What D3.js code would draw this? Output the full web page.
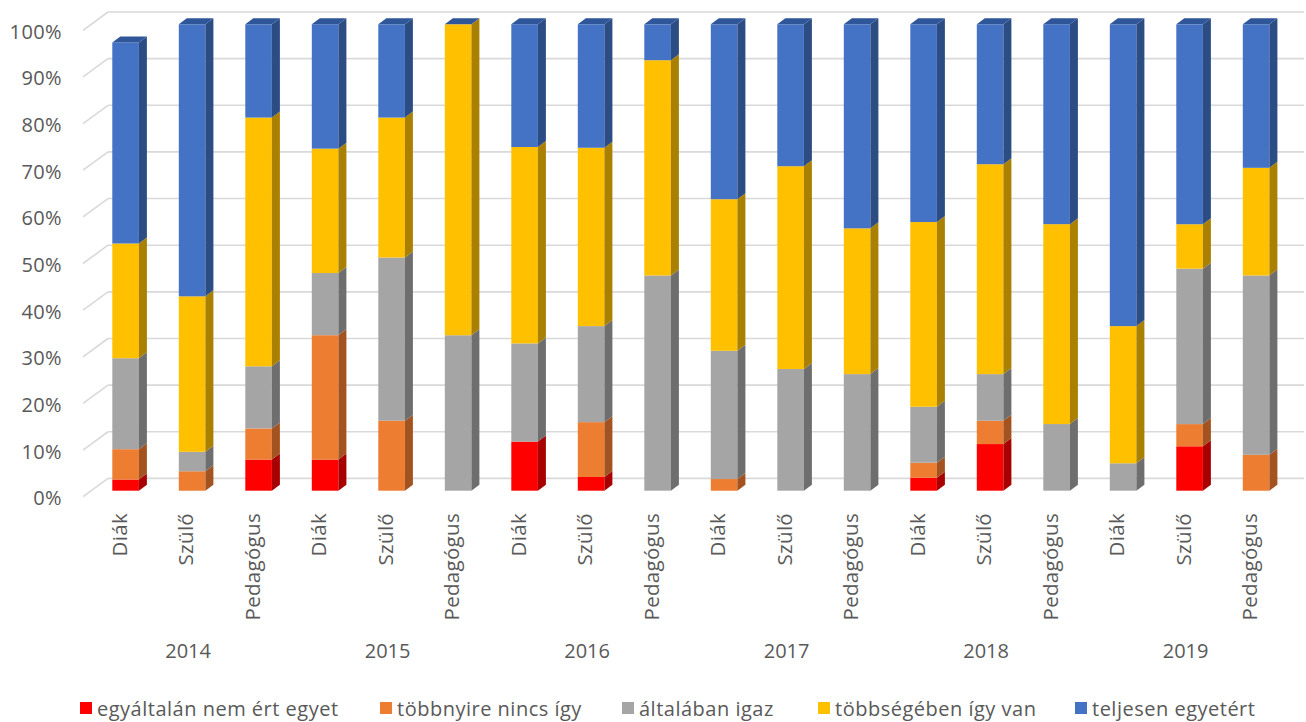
<!DOCTYPE html>
<html>
<head>
<meta charset="utf-8">
<script src="https://cdn.jsdelivr.net/npm/d3@7/dist/d3.min.js"></script>
<style>
  html, body { margin: 0; padding: 0; background: #ffffff; }
  svg { display: block; }
  text { font-family: "Open Sans", "Noto Sans", sans-serif; fill: #595959; }
</style>
</head>
<body>
<svg id="chart" width="1306" height="722"></svg>
<script>
// ---- data ----
const categories = ["Diák","Szülő","Pedagógus","Diák","Szülő","Pedagógus","Diák","Szülő","Pedagógus",
                    "Diák","Szülő","Pedagógus","Diák","Szülő","Pedagógus","Diák","Szülő","Pedagógus"];
const years = ["2014","2015","2016","2017","2018","2019"];
const seriesNames = ["egyáltalán nem ért egyet","többnyire nincs így","általában igaz","többségében így van","teljesen egyetért"];
const seriesColors = ["#FF0000","#ED7D31","#A5A5A5","#FFC000","#4472C4"];
const sideColors   = ["#A80000","#A2531F","#6E6E6E","#AA8000","#2C4C84"];
const topColors    = ["#C00000","#B8612A","#848484","#C49300","#30569A"];

const redVals    = [2.4, 0, 6.67, 6.67, 0, 0, 10.53, 2.94, 0, 0, 0, 0, 2.8, 10, 0, 0, 9.52, 0];
const orangeVals = [6.5, 4.17, 6.67, 26.67, 15, 0, 0, 11.76, 0, 2.5, 0, 0, 3.2, 5, 0, 0, 4.76, 7.69];
const grayVals   = [19.5, 4.17, 13.33, 13.33, 35, 33.33, 21.05, 20.59, 46.15, 27.5, 26.09, 25, 12.0, 10, 14.29, 5.88, 33.33, 38.46];
const yellowVals = [24.6, 33.33, 53.33, 26.67, 30, 66.67, 42.11, 38.24, 46.15, 32.5, 43.48, 31.25, 39.6, 45, 42.86, 29.41, 9.52, 23.08];
const blueVals   = [43.1, 58.33, 20, 26.67, 20, 0, 26.32, 26.47, 7.69, 37.5, 30.43, 43.75, 42.4, 30, 42.86, 64.71, 42.86, 30.77];
const yTicks = [0,10,20,30,40,50,60,70,80,90,100];

// ---- build table ----
const seriesVals = [redVals, orangeVals, grayVals, yellowVals, blueVals];
const table = categories.map((c, i) => {
  const row = { idx: i, cat: c };
  seriesNames.forEach((s, k) => row[s] = seriesVals[k][i]);
  return row;
});
const stacked = d3.stack().keys(seriesNames)(table);

// ---- geometry ----
const svg = d3.select("#chart");
const depthX = 8, depthY = -6;          // bar depth
const wallDY = -12.3;                   // back wall offset relative to bar front plane
const sideFrontDY = 6;                  // side wall front edge offset

const x = d3.scaleBand().domain(d3.range(categories.length))
  .range([92.35, 1289.35]).paddingInner(0.6).paddingOuter(0.3);
const xYear = d3.scaleBand().domain(years).range([92.35, 1289.35]);
const y = d3.scaleLinear().domain([0, 100]).range([490.7, 24.3]);

const wallLeft = 108, wallRight = 1304, sideFrontX = 83;

// gridlines on back wall + side wall
const grid = svg.append("g");
yTicks.forEach(t => {
  const yb = y(t) + wallDY;
  grid.append("line").attr("x1", wallLeft).attr("x2", wallRight)
    .attr("y1", yb).attr("y2", yb)
    .attr("stroke", "#D9D9D9").attr("stroke-width", 1.6);
  grid.append("line").attr("x1", sideFrontX).attr("y1", y(t) + sideFrontDY)
    .attr("x2", wallLeft).attr("y2", yb)
    .attr("stroke", "#D9D9D9").attr("stroke-width", 1.6);
});

// y tick labels
svg.append("g").selectAll("text").data(yTicks).join("text")
  .attr("x", 62).attr("y", d => y(d) + sideFrontDY + 1)
  .attr("text-anchor", "end").attr("dominant-baseline", "central")
  .style("font-size", "20px").style("letter-spacing", "0.4px")
  .text(d => d + "%");

// bars
const barsG = svg.append("g");
const w = x.bandwidth();
const nLayers = stacked.length;
table.forEach((row, i) => {
  const bx = x(i);
  const g = barsG.append("g");
  stacked.forEach((layer, k) => {
    const d = layer[i];
    const y0 = y(d[0]), y1 = y(d[1]);
    const h = y0 - y1;
    if (h > 0) {
      g.append("rect").attr("x", bx).attr("y", y1).attr("width", w).attr("height", h)
        .attr("fill", seriesColors[k]);
      g.append("path").attr("d",
        `M${bx + w},${y0} L${bx + w + depthX},${y0 + depthY} L${bx + w + depthX},${y1 + depthY} L${bx + w},${y1} Z`)
        .attr("fill", sideColors[k]);
    }
    // top face: only for the topmost layer (Excel shows the last series' cap even if zero)
    if (k === nLayers - 1) {
      g.append("path").attr("d",
        `M${bx},${y1} L${bx + w},${y1} L${bx + w + depthX},${y1 + depthY} L${bx + depthX},${y1 + depthY} Z`)
        .attr("fill", topColors[k]);
    }
  });
});

// category labels (rotated)
svg.append("g").selectAll("text").data(categories).join("text")
  .attr("transform", (d, i) => `translate(${x(i) + w / 2 - 6},513) rotate(-90)`)
  .attr("text-anchor", "end").attr("dy", "0.35em")
  .style("font-size", "20.5px").style("letter-spacing", "0.3px")
  .text(d => d);

// year labels
svg.append("g").selectAll("text").data(years).join("text")
  .attr("x", d => xYear(d) + xYear.bandwidth() / 2 - 4).attr("y", 650)
  .attr("text-anchor", "middle").attr("dominant-baseline", "central")
  .style("font-size", "20px")
  .text(d => d);

// legend
const legendX = [80, 380, 622, 818, 1075];
const lg = svg.append("g");
seriesNames.forEach((s, k) => {
  const item = lg.append("g").attr("transform", `translate(${legendX[k]},708)`);
  item.append("rect").attr("x", 0).attr("y", -6).attr("width", 12).attr("height", 12).attr("fill", seriesColors[k]);
  item.append("text").attr("x", 17).attr("y", 0).attr("dominant-baseline", "central")
    .style("font-size", "20px").style("letter-spacing", "0.5px").text(s);
});
</script>
</body>
</html>
